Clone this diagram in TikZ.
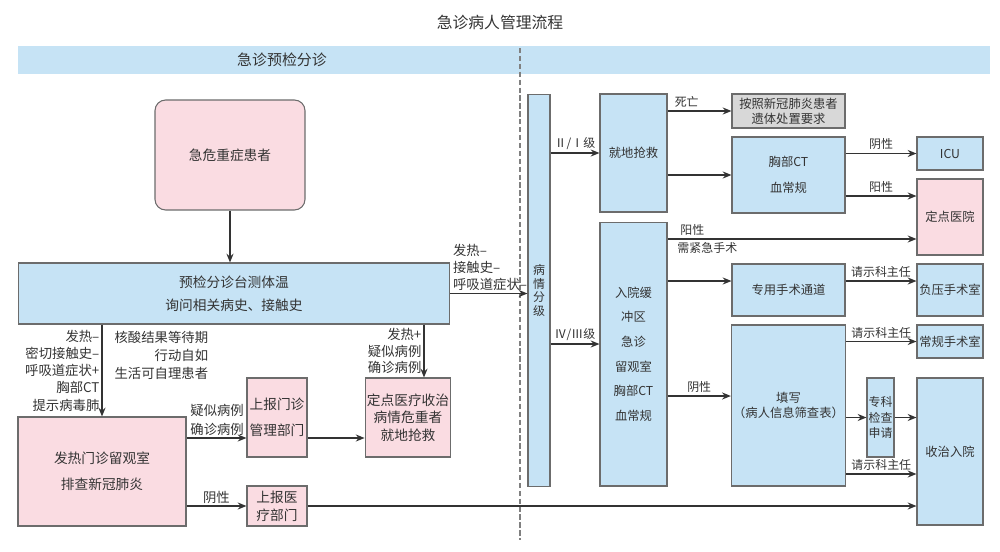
\documentclass[tikz,border=0pt]{standalone}
\usepackage{fontspec}
\setmainfont{Noto Sans CJK SC}
\usetikzlibrary{arrows.meta, positioning}
\definecolor{boxblue}{HTML}{C6E3F5}
\definecolor{boxpink}{HTML}{FADCE2}
\definecolor{boxgray}{HTML}{D8D8D8}
\definecolor{linegray}{HTML}{333333}
\definecolor{txtgray}{HTML}{333333}

\begin{document}
\begin{tikzpicture}[x=0.02cm, y=-0.02cm,
        box/.style={draw=gray!85!black, line width=0.6pt, inner sep=1pt, align=center, text=txtgray, font=\fontsize{7.8}{13}\selectfont},
        bluebox/.style={box, fill=boxblue},
        pinkbox/.style={box, fill=boxpink},
        graybox/.style={box, fill=boxgray},
        rbox/.style={bluebox, font=\fontsize{7}{14}\selectfont},
        arr/.style={-{Stealth[length=5pt, width=4pt]}, line width=1pt, draw=linegray},
        lbl/.style={font=\fontsize{7.6}{9.8}\selectfont, inner sep=1pt, text=txtgray},
        rlbl/.style={font=\fontsize{6.8}{8}\selectfont, inner sep=1.5pt, text=txtgray}
    ]
        \useasboundingbox (0,0) rectangle (1000,551);

        % Title and header bar
        \node[font=\fontsize{9}{11}\selectfont, text=txtgray] (title) at (500,22) {急诊病人管理流程};
        \node[fill=boxblue, minimum width=19.44cm, minimum height=0.56cm, inner sep=0pt] (bar) at (504,60) {};
        \node[font=\fontsize{8.5}{10}\selectfont, text=txtgray] (bartext) at (282,60) {急诊预检分诊};
        \draw[gray, line width=0.8pt, dash pattern=on 3pt off 1.5pt] (520,48) -- (520,540);

        % Left part: triage
        \node[pinkbox, rounded corners=6pt, minimum width=3cm, minimum height=2.2cm] (patient) at (230,155) {急危重症患者};
        \node[bluebox, minimum width=8.64cm, minimum height=1.22cm] (triage) at (234,293.5) {预检分诊台测体温\\询问相关病史、接触史};
        \node[pinkbox, minimum width=3.36cm, minimum height=2.18cm, font=\fontsize{7.8}{15}\selectfont] (fever) at (102,471.5) {发热门诊留观室\\排查新冠肺炎};
        \node[pinkbox, minimum width=1.2cm, minimum height=1.58cm, font=\fontsize{7.8}{15}\selectfont] (report1) at (277,417.5) {上报门诊\\管理部门};
        \node[pinkbox, minimum width=1.64cm, minimum height=1.58cm, font=\fontsize{7.8}{10}\selectfont] (fixed) at (408,417.5) {定点医疗收治\\病情危重者\\就地抢救};
        \node[pinkbox, minimum width=1.2cm, minimum height=0.8cm, font=\fontsize{7.8}{10}\selectfont] (report2) at (277,506) {上报医\\疗部门};

        % Right part: grading
        \node[bluebox, minimum width=0.44cm, minimum height=7.86cm, font=\fontsize{6.8}{7.8}\selectfont] (grade) at (539,290.5) {病\\情\\分\\级};
        \node[rbox, minimum width=1.34cm, minimum height=2.36cm] (rescue) at (633.5,153) {就地抢救};
        \node[rbox, minimum width=1.34cm, minimum height=5.28cm] (buffer) at (633.5,354) {入院缓\\冲区\\急诊\\留观室\\胸部CT\\血常规};
        \node[graybox, minimum width=2.26cm, minimum height=0.68cm, font=\fontsize{7}{8.5}\selectfont] (body) at (788.5,111) {按照新冠肺炎患者\\遗体处置要求};
        \node[rbox, minimum width=2.26cm, minimum height=1.52cm, font=\fontsize{7}{15}\selectfont] (ct) at (788.5,175) {胸部CT\\血常规};
        \node[rbox, minimum width=1.32cm, minimum height=0.66cm] (icu) at (950,153.5) {ICU};
        \node[pinkbox, minimum width=1.32cm, minimum height=1.52cm, font=\fontsize{7}{14}\selectfont] (hosp) at (950,217) {定点医院};
        \node[rbox, minimum width=2.26cm, minimum height=1.04cm] (opch) at (788.5,290) {专用手术通道};
        \node[rbox, minimum width=1.32cm, minimum height=1.04cm] (negor) at (950,290) {负压手术室};
        \node[rbox, minimum width=2.26cm, minimum height=3.22cm, font=\fontsize{7}{8.5}\selectfont] (form) at (788.5,405.5) {填写\\（病人信息筛查表）};
        \node[rbox, minimum width=1.32cm, minimum height=0.66cm] (normor) at (950,341.5) {常规手术室};
        \node[rbox, minimum width=0.54cm, minimum height=1.58cm, inner sep=0pt, font=\fontsize{6.8}{8.8}\selectfont] (spec) at (880.5,417.5) {专科\\检查\\申请};
        \node[rbox, minimum width=1.32cm, minimum height=2.94cm] (admit) at (950,451.5) {收治入院};

        % Entry points on box sides
        \coordinate (fixin) at ([xshift=0.32cm]fixed.north);
        \coordinate (r1in) at ([yshift=-0.41cm]report1.west);
        \coordinate (bufin) at ([yshift=0.2cm]buffer.west);
        \coordinate (hospin1) at ([yshift=0.42cm]hosp.west);
        \coordinate (hospin2) at ([yshift=-0.44cm]hosp.west);
        \coordinate (opin) at ([yshift=0.18cm]opch.west);
        \coordinate (formin) at ([yshift=0.19cm]form.west);
        \coordinate (admin) at ([yshift=-0.45cm]admit.west);

        % Left connectors
        \draw[arr] (patient.south) -- (patient.south |- triage.north);
        \draw[arr] (triage.south -| fever.north) --
            node[lbl, left, align=right] {发热–\\密切接触史–\\呼吸道症状+\\胸部CT\\提示病毒肺}
            node[lbl, right=0.2cm, pos=0.34, align=right, font=\fontsize{7.6}{10.2}\selectfont] {核酸结果等待期\\行动自如\\生活可自理患者} (fever.north);
        \draw[arr] (triage.south -| fixin) -- node[lbl, left, align=right, font=\fontsize{7.6}{9.4}\selectfont] {发热+\\疑似病例\\确诊病例} (fixin);
        \draw[arr] (fever.east |- r1in) -- node[lbl, above left, pos=1, align=right, font=\fontsize{7.6}{10.8}\selectfont] {疑似病例\\确诊病例} (r1in);
        \draw[arr] (r1in -| report1.east) -- (r1in -| fixed.west);
        \draw[arr] (fever.east |- report2.west) -- node[lbl, above] {阴性} (report2.west);
        \draw[arr] (report2.east) -- (admit.west |- report2.east);
        \draw[arr] (triage.east) -- node[lbl, above right, pos=0, align=left] {发热–\\接触史–\\呼吸道症状–} (grade.west |- triage.east);

        % Right connectors
        \draw[arr] (grade.east |- rescue.west) -- node[rlbl, above] {Ⅱ/Ⅰ级} (rescue.west);
        \draw[arr] (grade.east |- bufin) -- node[rlbl, above] {Ⅳ/Ⅲ级} (bufin);
        \draw[arr] (rescue.east |- body.west) -- node[rlbl, above, pos=0.3] {死亡} (body.west);
        \draw[arr] (rescue.east |- ct.west) -- (ct.west);
        \draw[arr] (ct.east |- icu.west) -- node[rlbl, above] {阴性} (icu.west);
        \draw[arr] (ct.east |- hospin1) -- node[rlbl, above] {阳性} (hospin1);
        \draw[arr] (buffer.east |- hospin2) -- node[rlbl, above, pos=0.1] {阳性} node[rlbl, below, pos=0.16] {需紧急手术} (hospin2);
        \draw[arr] (buffer.east |- opin) -- (opin);
        \draw[arr] (opin -| opch.east) -- node[rlbl, above] {请示科主任} (opin -| negor.west);
        \draw[arr] (buffer.east |- formin) -- node[rlbl, above] {阴性} (formin);
        \draw[arr] (form.east |- normor.west) -- node[rlbl, above] {请示科主任} (normor.west);
        \draw[arr] (form.east |- spec.west) -- (spec.west);
        \draw[arr] (spec.east) -- (admit.west |- spec.east);
        \draw[arr] (form.east |- admin) -- node[rlbl, above] {请示科主任} (admin);

    \end{tikzpicture}
\end{document}
